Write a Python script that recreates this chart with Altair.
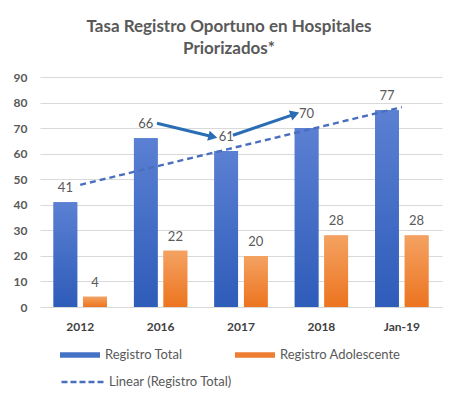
import math
import altair as alt
import numpy as np
import pandas as pd

# ---------------- data ----------------
categorias = ["2012", "2016", "2017", "2018", "Jan-19"]
registro_total = [41, 66, 61, 70, 77]
registro_adolescente = [4, 22, 20, 28, 28]
series = ["Registro Total", "Registro Adolescente"]
tendencia_nombre = "Linear (Registro Total)"
y_ticks = [0, 10, 20, 30, 40, 50, 60, 70, 80, 90]

# annotation arrows, in (category position, value) units
flecha_x = [1.455, 2.40]
flecha_x2 = [2.15, 3.17]
flecha_y = [71.9, 67.2]
flecha_y2 = [66.6, 75.5]

# ---------------- layout ----------------
W, H = 402, 230
FONT = "Lato"
TXT = "#595959"
BLUE = "#4472C4"
ORANGE = "#ED7D31"

rows = []
for c, t, a in zip(categorias, registro_total, registro_adolescente):
    rows.append({"cat": c, "serie": series[0], "valor": t})
    rows.append({"cat": c, "serie": series[1], "valor": a})
df = pd.DataFrame(rows)

idx = np.arange(len(categorias))
slope, intercept = np.polyfit(idx, registro_total, 1)
df_trend = pd.DataFrame({
    "cat": categorias,
    "valor": intercept + slope * idx,
    "tend": [tendencia_nombre] * len(categorias),
})

px_x = W / len(categorias)
px_y = H / 90.0
angles = []
for x1, x2, y1, y2 in zip(flecha_x, flecha_x2, flecha_y, flecha_y2):
    a = math.degrees(math.atan2(-(y2 - y1) * px_y, (x2 - x1) * px_x))
    angles.append(a % 360)
df_arrow = pd.DataFrame({"x": flecha_x, "x2": flecha_x2, "valor": flecha_y,
                         "y2": flecha_y2, "ang": angles})

yscale = alt.Scale(domain=[0, 90], nice=False)
y_axis = alt.Axis(title=None, values=y_ticks, domain=False,
                  ticks=False, labelPadding=13, gridColor="#D9D9D9",
                  labelOverlap=False,
                  labelFont=FONT, labelFontSize=12, labelFontWeight="bold",
                  labelColor=TXT)
x_enc = alt.X("cat:N", sort=categorias,
              scale=alt.Scale(paddingInner=0.3, paddingOuter=0.15),
              axis=alt.Axis(title=None, labelAngle=0, domain=False, ticks=False,
                            labelPadding=14, labelFont=FONT, labelFontSize=12,
                            labelFontWeight="bold", labelColor="#404040"))
xoff = alt.XOffset("serie:N", sort=series,
                   scale=alt.Scale(paddingInner=0.2, paddingOuter=0.05))
y_enc = alt.Y("valor:Q", scale=yscale, axis=y_axis)

base = alt.Chart(df)

bars = base.mark_bar().encode(
    x=x_enc, xOffset=xoff, y=y_enc,
    fill=alt.Fill("serie:N", sort=series,
                  scale=alt.Scale(domain=series, range=[BLUE, ORANGE]),
                  legend=alt.Legend(title=None, orient="none", legendX=20, legendY=258,
                                    direction="horizontal", columns=2, columnPadding=52,
                                    symbolType="M-1,-0.14H1V0.14H-1Z", symbolSize=1600,
                                    symbolStrokeWidth=0, labelFont=FONT, labelFontSize=13,
                                    labelColor=TXT, labelOffset=5)),
)

def grad(top, bottom):
    return alt.Gradient(gradient="linear", x1=0, x2=0, y1=0, y2=1,
                        stops=[alt.GradientStop(color=top, offset=0),
                               alt.GradientStop(color=bottom, offset=1)])

grad_blue = base.mark_bar(color=grad("#5B80D3", "#2E5CB9")).encode(
    x=x_enc, xOffset=xoff, y=y_enc
).transform_filter(alt.datum.serie == series[0])
grad_orange = base.mark_bar(color=grad("#F4A262", "#EC741F")).encode(
    x=x_enc, xOffset=xoff, y=y_enc
).transform_filter(alt.datum.serie == series[1])

labels = base.mark_text(baseline="alphabetic", dy=-10, font=FONT, fontSize=13,
                        color=TXT).encode(
    x=x_enc, xOffset=xoff, y=y_enc, text="valor:Q")

trend = alt.Chart(df_trend).mark_line(strokeDash=[6, 4], strokeWidth=2.4).encode(
    x=x_enc,
    y=y_enc,
    stroke=alt.Stroke("tend:N",
                      scale=alt.Scale(domain=[tendencia_nombre], range=["#4A6FBF"]),
                      legend=alt.Legend(title=None, orient="none", legendX=20, legendY=282,
                                        symbolType="stroke", symbolSize=1850,
                                        symbolStrokeWidth=2.4, symbolDash=[6, 3],
                                        labelFont=FONT, labelFontSize=13,
                                        labelColor=TXT, labelOffset=3)),
)

main = alt.layer(bars, grad_blue, grad_orange, labels, trend)

qx = alt.Scale(domain=[0, len(categorias)], nice=False, zero=False)
arrow_lines = alt.Chart(df_arrow).mark_rule(color="#2A6DB5", strokeWidth=3).encode(
    x=alt.X("x:Q", scale=qx, axis=None), x2="x2:Q",
    y=y_enc, y2="y2:Q")
arrow_heads = alt.Chart(df_arrow).mark_point(shape="triangle-right", filled=True,
                                             size=110, color="#2A6DB5", opacity=1).encode(
    x=alt.X("x2:Q", scale=qx, axis=None),
    y=alt.Y("y2:Q", scale=yscale, axis=y_axis),
    angle=alt.Angle("ang:Q", scale=None))
arrows = alt.layer(arrow_lines, arrow_heads)

chart = alt.layer(main, arrows).resolve_scale(x="independent").properties(
    width=W, height=H,
    title=alt.TitleParams(
        text=["Tasa Registro Oportuno en Hospitales", "Priorizados*"],
        font=FONT, fontSize=17, fontWeight="bold", color=TXT, anchor="middle",
        offset=13, lineHeight=22, dx=-12),
    autosize=alt.AutoSizeParams(type="none"),
    padding={"left": 32, "top": 69, "right": 10, "bottom": 95},
    background="white",
).configure_view(stroke=None)

chart.save("out.html", embed_options={"renderer": "svg", "actions": False})
